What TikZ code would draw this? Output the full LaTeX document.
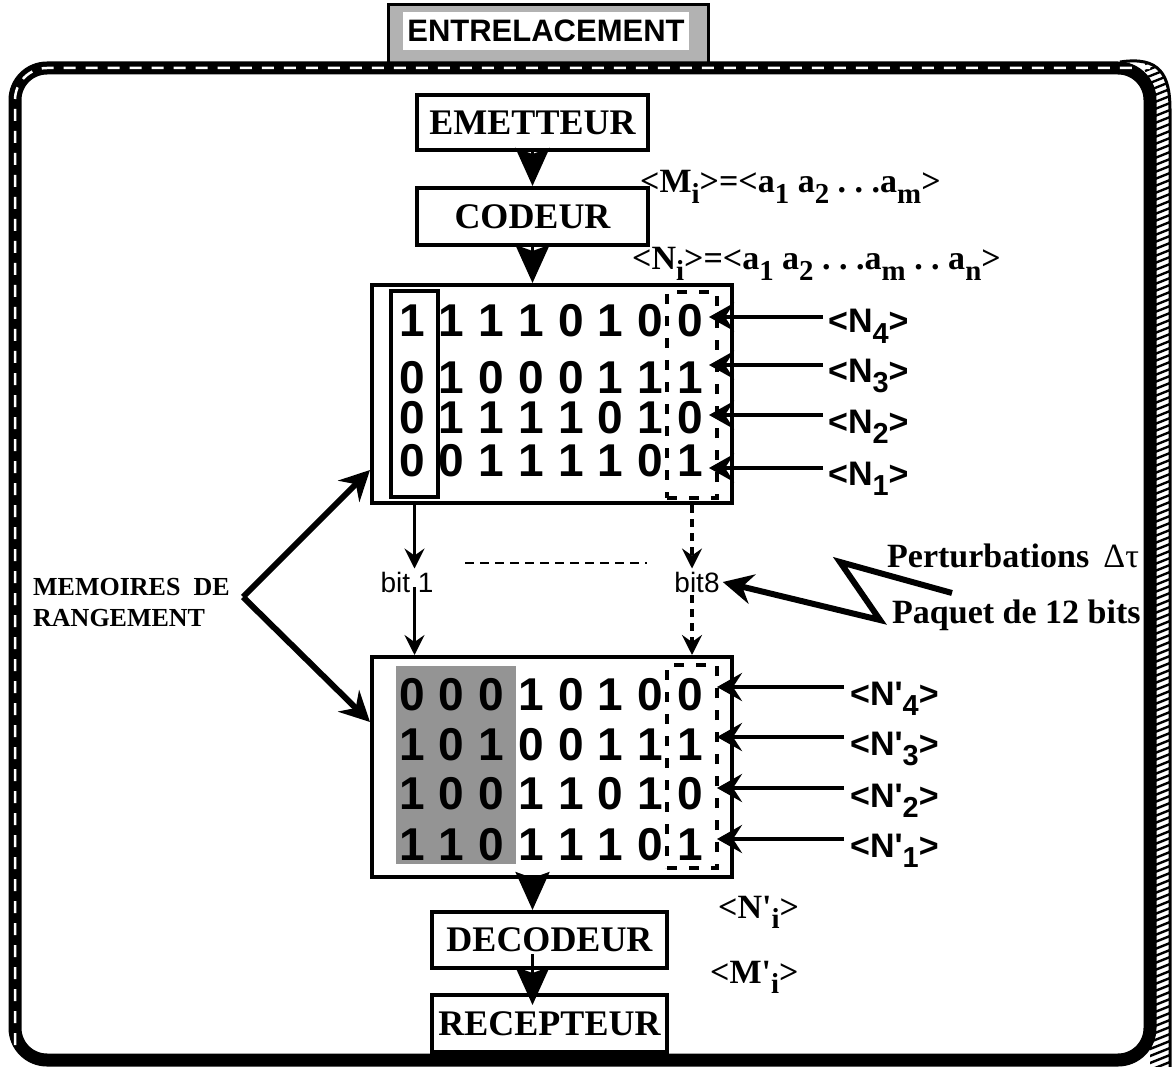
\documentclass[tikz,border=0pt]{standalone}
\usepackage{fontspec}
\usepackage{graphicx}
\setmainfont{Liberation Serif}
\setsansfont{Liberation Sans}
\usetikzlibrary{arrows.meta}
\newcommand\mysub[1]{\raisebox{-0.32em}{\scalebox{0.85}{#1}}}
\newcommand\apos{\textquotesingle}
\begin{document}
\begin{tikzpicture}[x=1pt,y=-1pt,
  box/.style={draw, line width=4pt, inner sep=0pt, fill=white, font=\bfseries\fontsize{36}{40}\selectfont},
  bigarr/.style={line width=3pt, -{Stealth[length=38pt,width=34pt,inset=6pt]}},
  smarr/.style={line width=4pt, -{Stealth[length=25pt,width=28pt,inset=9pt]}},
  thinarr/.style={line width=3pt, -{Stealth[length=20pt,width=20pt,inset=7pt]}},
  varr/.style={line width=6pt, -{Stealth[length=30pt,width=30pt,inset=10pt]}},
  digit/.style={font=\sffamily\bfseries\fontsize{46}{46}\selectfont, inner sep=0pt},
  mbox/.style={draw, line width=4pt, inner sep=0pt},
  dbox/.style={draw, line width=4pt, dash pattern=on 10pt off 12pt, inner sep=0pt},
  lab/.style={font=\sffamily\bfseries\fontsize{34}{36}\selectfont, inner sep=0pt, anchor=base west},
  serlab/.style={font=\bfseries\fontsize{34}{36}\selectfont, inner sep=0pt, anchor=base west},
  bitlab/.style={font=\sffamily\fontsize{28}{30}\selectfont, inner sep=3pt}
]
\useasboundingbox (0,0) rectangle (1173,1067);

% hatched right band
\path[fill=white] (1120,62) .. controls (1160,56) and (1170,75) .. (1170,110) -- (1170,1067) -- (1150,1067) -- (1150,90) -- cycle;
\begin{scope}
  \clip (1120,62) .. controls (1160,56) and (1170,75) .. (1170,110) -- (1170,1067) -- (1150,1067) -- (1150,90) -- cycle;
  \foreach \y in {30,37,...,1090} \draw[line width=2.4pt] (1145,\y+6) -- (1175,\y-6);
\end{scope}
\draw[line width=3pt] (1120,62) .. controls (1160,56) and (1170,75) .. (1170,110) -- (1170,1067);

% title box
\node[draw, line width=3pt, fill=black!30, minimum width=320pt, minimum height=62pt, inner sep=0pt] (titlebox) at (548,36) {};
\node[fill=white, minimum width=286pt, minimum height=38pt, inner sep=0pt, font=\sffamily\bfseries\fontsize{31}{33}\selectfont] (title) at (546,31) {ENTRELACEMENT};

% frame
\draw[line width=13pt, rounded corners=32pt] (15,1060) -- (15,68) -- (1150,68) -- (1150,1060) -- cycle;
\draw[white, line width=2.5pt, dash pattern=on 12pt off 10pt, rounded corners=32pt] (15,1045) -- (15,68) -- (1150,68);

% chain boxes
\node[box, minimum width=231pt, minimum height=55pt] (emet) at (532.5,122.5) {EMETTEUR};
\node[box, minimum width=231pt, minimum height=57pt] (cod) at (532.5,216.5) {CODEUR};
\node[box, minimum width=235pt, minimum height=56pt] (dec) at (549.5,940) {DECODEUR};
\node[box, minimum width=235pt, minimum height=57pt] (rec) at (549.5,1023.5) {RECEPTEUR};

% memory 1
\node[mbox, minimum width=360pt, minimum height=218pt] (m1) at (552,394) {};
\node[mbox, minimum width=47pt, minimum height=206pt] (col1) at (414.5,394) {};
\node[dbox, minimum width=50pt, minimum height=206pt] (dash1) at (692,395) {};
\foreach \r/\yy/\bits in {1/321/{1,1,1,1,0,1,0,0},2/378/{0,1,0,0,0,1,1,1},3/418/{0,1,1,1,1,0,1,0},4/461/{0,0,1,1,1,1,0,1}}{
  \foreach \b [count=\c] in \bits { \node[digit] (p\r-\c) at ({412+(\c-1)*39.7},\yy) {\b}; }
}

% memory 2
\node[mbox, minimum width=360pt, minimum height=220pt] (m2) at (552,767) {};
\node[fill=black!42, minimum width=120pt, minimum height=198pt, inner sep=0pt] (gray) at (456,765) {};
\node[dbox, minimum width=50pt, minimum height=203pt] (dash2) at (692,766.5) {};
\foreach \r/\yy/\bits in {1/695/{0,0,0,1,0,1,0,0},2/745/{1,0,1,0,0,1,1,1},3/794/{1,0,0,1,1,0,1,0},4/845/{1,1,0,1,1,1,0,1}}{
  \foreach \b [count=\c] in \bits { \node[digit] (q\r-\c) at ({412+(\c-1)*39.7},\yy) {\b}; }
}

% big arrows in the chain
\draw[bigarr] (emet.south) -- (cod.north);
\draw[bigarr] (cod.south) -- (cod.south |- m1.north);
\draw[bigarr] (m2.south -| cod.south) -- (dec.north -| cod.south);
\draw[bigarr] ([yshift=16pt]dec.south -| cod.south) -- ([yshift=-12pt]rec.north -| cod.south);

% word labels
\node[serlab] (mi) at (640,193) {<M\mysub{i}>=<a\mysub{1} a\mysub{2} .\ .\ .a\mysub{m}>};
\node[serlab] (ni) at (632,270) {<N\mysub{i}>=<a\mysub{1} a\mysub{2} .\ .\ .a\mysub{m} .\ .\ a\mysub{n}>};
\node[serlab] (npi) at (718,918) {<N\apos\mysub{i}>};
\node[serlab] (mpi) at (710,983) {<M\apos\mysub{i}>};

% N labels and arrows, memory 1
\foreach \k/\ay/\by in {4/317/333,3/365/382,2/415/433,1/468/485}{
  \node[lab] (n\k) at (828,\by) {<N\mysub{\k}>};
  \coordinate (t\k) at (709,\ay);
  \draw[smarr] ([xshift=-5pt]n\k.west |- t\k) -- (t\k);
}
% N' labels and arrows, memory 2
\foreach \k/\ay/\by in {4/687/705,3/737/755,2/788/807,1/839/857}{
  \node[lab] (np\k) at (850,\by) {<N\apos\mysub{\k}>};
  \coordinate (u\k) at (717,\ay);
  \draw[smarr] ([xshift=-6pt]np\k.west |- u\k) -- (u\k);
}

% bits
\node[bitlab] (bit1) at (407,582) {bit 1};
\node[bitlab] (bit8) at (697,582) {bit8};
\draw[thinarr] (col1.south |- m1.south) -- (bit1.north -| col1.south);
\draw[thinarr] ([yshift=8pt]bit1.south -| col1.south) -- (m2.north -| col1.south);
\draw[thinarr, line width=4pt, dash pattern=on 8pt off 6pt] (dash1.south |- m1.south) -- (bit8.north -| dash1.south);
\draw[thinarr, line width=4pt, dash pattern=on 8pt off 6pt] (bit8.south -| dash1.south) -- (m2.north -| dash1.south);
\coordinate (dl1) at (465,563);
\coordinate (dl2) at (647,563);
\draw[line width=2pt, dash pattern=on 9pt off 6pt] (dl1) -- (dl2);

% perturbation
\coordinate (z1) at (952,593);
\coordinate (z2) at (840,562);
\coordinate (z3) at (880,620);
\draw[varr] (z1) -- (z2) -- (z3) -- (bit8.east);
\node[serlab] (pert) at (887,567) {Perturbations \,{\mdseries Δτ}};
\node[serlab] (paq) at (892,623) {Paquet de 12 bits};

% memoires
\node[font=\bfseries\fontsize{26}{31}\selectfont, align=left, inner sep=0pt, anchor=north west] (mem) at (33,578) {MEMOIRES\ \ DE\\RANGEMENT};
\coordinate (apex) at (243,597);
\draw[varr] (apex) -- (m1.west |- 0,470);
\draw[varr] (apex) -- (m2.west |- 0,722);
\end{tikzpicture}
\end{document}
